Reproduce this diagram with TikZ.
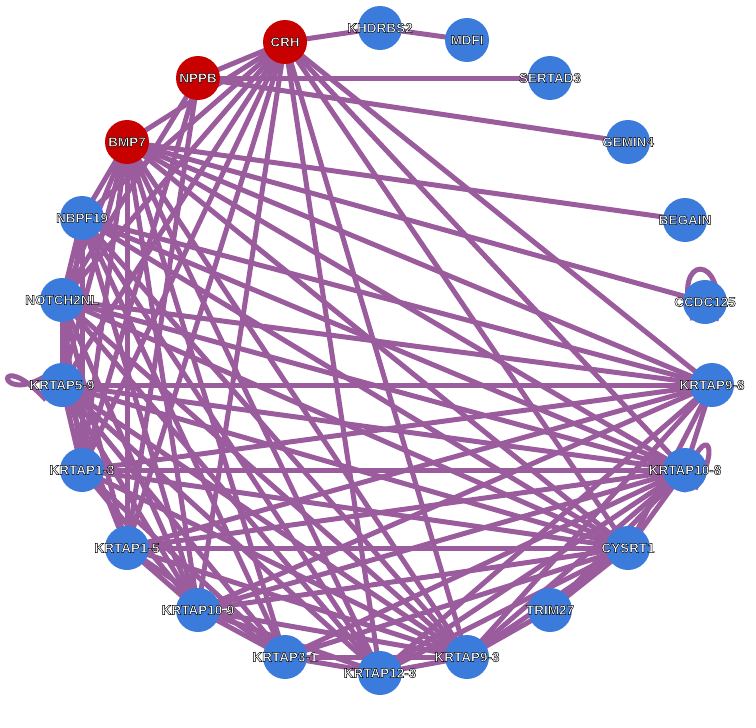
\documentclass[tikz,border=0pt]{standalone}
\usepackage{fontspec}
\setmainfont{Liberation Sans}
\definecolor{nodeblue}{HTML}{3A7BDB}
\definecolor{nodered}{HTML}{C80000}
\definecolor{edge}{HTML}{9B5C9E}
\newcommand{\outl}[1]{\special{pdf:literal direct 2 Tr 0.45 w 0 G}#1\special{pdf:literal direct 0 Tr}}
\begin{document}
\begin{tikzpicture}[x=1pt,y=-1pt,
  gene/.style={circle,fill=nodeblue,minimum size=44pt,inner sep=0pt},
  redgene/.style={gene,fill=nodered},
  lbl/.style={inner sep=0pt,font=\bfseries\fontsize{13.5}{13.5}\selectfont,text=white},
  link/.style={draw=edge,line width=5pt}]
\useasboundingbox (0,0) rectangle (756,728);
\foreach \n/\x/\y in {CRH/285/42,NPPB/198/78,BMP7/127/142}{\coordinate (\n) at (\x,\y);}
\foreach \n/\x/\y in {KHDRBS2/380/28,MDFI/467/40,SERTAD3/550/78,GEMIN4/628/142,NBPF19/82/218,BEGAIN/685/220,NOTCH2NL/62/300,CCDC125/705/302,KRTAP5-9/62/385,KRTAP9-8/712/385,KRTAP1-3/82/470,KRTAP10-8/685/470,KRTAP1-5/127/548,CYSRT1/628/548,KRTAP10-9/198/610,TRIM27/550/610,KRTAP3-1/285/657,KRTAP9-3/467/657,KRTAP12-3/380/673}{\coordinate (\n) at (\x,\y);}
\begin{scope}[link]
\draw ([shift={(-16pt,-15pt)}]KRTAP5-9) .. controls (-5,345) and (-5,405) .. ([shift={(-18pt,8pt)}]KRTAP5-9);
\draw ([shift={(-12pt,-18pt)}]CCDC125) .. controls (670,252) and (728,252) .. ([shift={(11pt,-19pt)}]CCDC125);
\draw ([shift={(10pt,-19pt)}]KRTAP10-8) .. controls (725,440) and (700,420) .. ([shift={(-2pt,-22pt)}]KRTAP10-8);
\foreach \a/\b in {CRH/KHDRBS2,KHDRBS2/MDFI,CRH/BMP7,NPPB/SERTAD3,NPPB/GEMIN4,BMP7/BEGAIN,BMP7/CCDC125,CRH/NPPB}
  \draw (\a) -- (\b);
\foreach \a in {CRH,BMP7}
 \foreach \b in {NBPF19,NOTCH2NL,KRTAP5-9,KRTAP1-3,KRTAP1-5,KRTAP10-9,KRTAP12-3,KRTAP9-3,CYSRT1,KRTAP10-8,KRTAP9-8}
  \draw (\a) -- (\b);
\draw (BMP7) -- (KRTAP3-1);
\foreach \b in {NOTCH2NL,KRTAP1-3,KRTAP1-5}
  \draw (NPPB) -- (\b);
\foreach \a/\b in {NBPF19/NOTCH2NL,NBPF19/KRTAP5-9,NBPF19/KRTAP1-3,NBPF19/KRTAP10-9,NBPF19/KRTAP3-1,NBPF19/KRTAP12-3,NBPF19/KRTAP9-3,NBPF19/CYSRT1,NBPF19/KRTAP10-8,NBPF19/KRTAP9-8,
 NOTCH2NL/KRTAP5-9,NOTCH2NL/KRTAP1-3,NOTCH2NL/KRTAP1-5,NOTCH2NL/KRTAP10-9,NOTCH2NL/KRTAP12-3,NOTCH2NL/KRTAP9-3,NOTCH2NL/CYSRT1,NOTCH2NL/KRTAP10-8,NOTCH2NL/KRTAP9-8,
 KRTAP5-9/KRTAP1-3,KRTAP5-9/KRTAP1-5,KRTAP5-9/KRTAP10-9,KRTAP5-9/KRTAP3-1,KRTAP5-9/KRTAP12-3,KRTAP5-9/KRTAP9-3,KRTAP5-9/CYSRT1,KRTAP5-9/KRTAP10-8,KRTAP5-9/KRTAP9-8,
 KRTAP1-3/KRTAP10-9,KRTAP1-3/KRTAP3-1,KRTAP1-3/KRTAP9-3,KRTAP1-3/CYSRT1,KRTAP1-3/KRTAP10-8,KRTAP1-3/KRTAP9-8,
 KRTAP1-5/KRTAP10-9,KRTAP1-5/KRTAP3-1,KRTAP1-5/KRTAP9-3,KRTAP1-5/CYSRT1,KRTAP1-5/KRTAP10-8,KRTAP1-5/KRTAP9-8,
 KRTAP10-9/KRTAP3-1,KRTAP10-9/KRTAP12-3,KRTAP10-9/KRTAP9-3,KRTAP10-9/CYSRT1,KRTAP10-9/KRTAP10-8,KRTAP10-9/KRTAP9-8,
 KRTAP3-1/KRTAP12-3,KRTAP3-1/KRTAP9-3,KRTAP3-1/CYSRT1,KRTAP3-1/KRTAP10-8,
 KRTAP12-3/KRTAP9-3,KRTAP12-3/CYSRT1,KRTAP12-3/KRTAP10-8,KRTAP12-3/KRTAP9-8,
 KRTAP9-3/TRIM27,KRTAP9-3/CYSRT1,KRTAP9-3/KRTAP10-8,KRTAP9-3/KRTAP9-8,
 TRIM27/CYSRT1,TRIM27/KRTAP10-8,CYSRT1/KRTAP10-8,CYSRT1/KRTAP9-8,KRTAP10-8/KRTAP9-8}
  \draw (\a) -- (\b);
\end{scope}
\foreach \n in {CRH,NPPB,BMP7}{\node[redgene] (n\n) at (\n) {};}
\foreach \n in {KHDRBS2,MDFI,SERTAD3,GEMIN4,NBPF19,BEGAIN,NOTCH2NL,CCDC125,KRTAP5-9,KRTAP9-8,KRTAP1-3,KRTAP10-8,KRTAP1-5,CYSRT1,KRTAP10-9,TRIM27,KRTAP3-1,KRTAP9-3,KRTAP12-3}{\node[gene] (n\n) at (\n) {};}
\foreach \n in {CRH,NPPB,BMP7,KHDRBS2,MDFI,SERTAD3,GEMIN4,NBPF19,BEGAIN,NOTCH2NL,CCDC125,KRTAP5-9,KRTAP9-8,KRTAP1-3,KRTAP10-8,KRTAP1-5,CYSRT1,KRTAP10-9,TRIM27,KRTAP3-1,KRTAP9-3,KRTAP12-3}{\node[lbl] (t\n) at (\n) {\outl{\n}};}
\end{tikzpicture}
\end{document}
